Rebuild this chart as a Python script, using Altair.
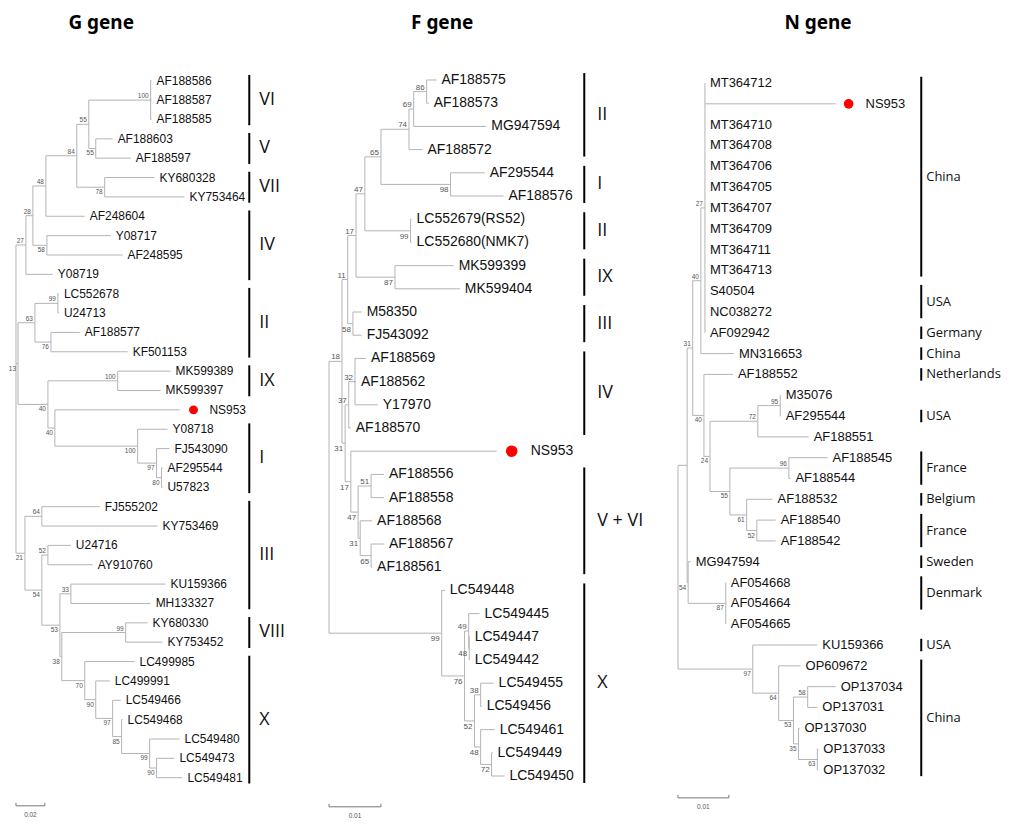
import altair as alt
import pandas as pd

# ----------------------------- G gene -----------------------------
G_LEAVES = ["AF188586", "AF188587", "AF188585", "AF188603", "AF188597", "KY680328", "KY753464",
            "AF248604", "Y08717", "AF248595", "Y08719", "LC552678", "U24713", "AF188577", "KF501153",
            "MK599389", "MK599397", "NS953", "Y08718", "FJ543090", "AF295544", "U57823", "FJ555202",
            "KY753469", "U24716", "AY910760", "KU159366", "MH133327", "KY680330", "KY753452",
            "LC499985", "LC499991", "LC549466", "LC549468", "LC549480", "LC549473", "LC549481"]
G_LEAF_DEPTH = [0.0938, 0.0938, 0.0938, 0.0669, 0.0794, 0.0959, 0.1166, 0.0476, 0.0656, 0.0738,
                0.0255, 0.0297, 0.0297, 0.0442, 0.0773, 0.1070, 0.1001, 0.1132, 0.1049, 0.1063,
                0.1014, 0.1014, 0.0580, 0.0980, 0.0380, 0.0531, 0.1035, 0.0932, 0.0911, 0.1014,
                0.0821, 0.0649, 0.0725, 0.0738, 0.1132, 0.1097, 0.1152]
G_NODE_IDS = ["gVI", "gV", "g55", "gVII", "g84", "g48", "g58", "g28", "g27", "g99", "g76", "g63",
              "gIX", "g80", "g97", "gI", "g40b", "g40a", "g13", "g64", "g52", "g33", "gVIII", "g90b",
              "g99b", "g85", "g97b", "g90a", "g70", "g38", "g53", "g54", "g21", "groot"]
G_NODE_DEPTH = [0.0932, 0.0552, 0.0504, 0.0614, 0.0421, 0.0207, 0.0214, 0.0117, 0.0069, 0.0290,
                0.0242, 0.0131, 0.0704, 0.1007, 0.0973, 0.0842, 0.0269, 0.0221, 0.0014, 0.0179,
                0.0221, 0.0380, 0.0759, 0.0973, 0.0925, 0.0731, 0.0669, 0.0552, 0.0476, 0.0317,
                0.0304, 0.0179, 0.0062, 0.0]
G_NODE_SUPPORT = ["100", "55", "55", "78", "84", "48", "58", "28", "27", "99", "76", "63", "100", "80",
                  "97", "100", "40", "40", "13", "64", "52", "33", "99", "90", "99", "85", "97", "90",
                  "70", "38", "53", "54", "21", ""]
G_NODE_CHILDREN = [
    ["AF188586", "AF188587", "AF188585"], ["AF188603", "AF188597"], ["gVI", "gV"],
    ["KY680328", "KY753464"], ["g55", "gVII"], ["g84", "AF248604"], ["Y08717", "AF248595"],
    ["g48", "g58"], ["g28", "Y08719"], ["LC552678", "U24713"], ["AF188577", "KF501153"],
    ["g99", "g76"], ["MK599389", "MK599397"], ["AF295544", "U57823"], ["FJ543090", "g80"],
    ["Y08718", "g97"], ["NS953", "gI"], ["gIX", "g40b"], ["g63", "g40a"],
    ["FJ555202", "KY753469"], ["U24716", "AY910760"], ["KU159366", "MH133327"],
    ["KY680330", "KY753452"], ["LC549473", "LC549481"], ["LC549480", "g90b"],
    ["LC549468", "g99b"], ["LC549466", "g85"], ["LC499991", "g97b"], ["LC499985", "g90a"],
    ["gVIII", "g70"], ["g33", "g38"], ["g52", "g53"], ["g64", "g54"], ["g27", "g13", "g21"]]
G_CLADES = ["VI", "V", "VII", "IV", "II", "IX", "I", "III", "VIII", "X"]
G_CLADE_FIRST = ["AF188586", "AF188603", "KY680328", "AF248604", "LC552678", "MK599389", "Y08718",
                 "FJ555202", "KY680330", "LC499985"]
G_CLADE_LAST = ["AF188585", "AF188597", "KY753464", "Y08719", "KF501153", "MK599397", "U57823",
                "MH133327", "KY753452", "LC549481"]
G_SCALE = 0.02

# ----------------------------- F gene -----------------------------
F_LEAVES = ["AF188575", "AF188573", "MG947594", "AF188572", "AF295544", "AF188576",
            "LC552679(RS52)", "LC552680(NMK7)", "MK599399", "MK599404", "M58350", "FJ543092",
            "AF188569", "AF188562", "Y17970", "AF188570", "NS953", "AF188556", "AF188558",
            "AF188568", "AF188567", "AF188561", "LC549448", "LC549445", "LC549447", "LC549442",
            "LC549455", "LC549456", "LC549461", "LC549449", "LC549450"]
F_LEAF_DEPTH = [0.0207, 0.0192, 0.0303, 0.0180, 0.0300, 0.0336, 0.0159, 0.0159, 0.0240, 0.0252,
                0.0063, 0.0063, 0.0071, 0.0052, 0.0094, 0.0042, 0.0323, 0.0106, 0.0106, 0.0083,
                0.0106, 0.0083, 0.0223, 0.0290, 0.0271, 0.0271, 0.0317, 0.0294, 0.0319, 0.0315,
                0.0338]
F_NODE_IDS = ["f86", "f69", "f74", "f98", "f65", "f99a", "f47a", "f87", "f17a", "f58", "f11", "f32",
              "f37", "f51", "f65b", "f31b", "f47b", "f17b", "f31a", "f18", "f48a", "f49", "f38",
              "f72", "f48b", "f52", "f76", "f99X", "froot"]
F_NODE_DEPTH = [0.0188, 0.0163, 0.0154, 0.0234, 0.0100, 0.0157, 0.0069, 0.0127, 0.0052, 0.0046,
                0.0036, 0.0050, 0.0038, 0.0081, 0.0081, 0.0060, 0.0056, 0.0042, 0.0031, 0.0025,
                0.0270, 0.0269, 0.0292, 0.0313, 0.0292, 0.0280, 0.0261, 0.0217, 0.0]
F_NODE_SUPPORT = ["86", "69", "74", "98", "65", "99", "47", "87", "17", "58", "11", "32", "37", "51",
                  "65", "31", "47", "17", "31", "18", "48", "49", "38", "72", "48", "52", "76", "99", ""]
F_NODE_CHILDREN = [
    ["AF188575", "AF188573"], ["f86", "MG947594"], ["f69", "AF188572"], ["AF295544", "AF188576"],
    ["f74", "f98"], ["LC552679(RS52)", "LC552680(NMK7)"], ["f65", "f99a"],
    ["MK599399", "MK599404"], ["f47a", "f87"], ["M58350", "FJ543092"], ["f17a", "f58"],
    ["AF188569", "AF188562", "Y17970"], ["f32", "AF188570"], ["AF188556", "AF188558"],
    ["AF188567", "AF188561"], ["AF188568", "f65b"], ["f51", "f31b"], ["NS953", "f47b"],
    ["f37", "f17b"], ["f11", "f31a"], ["LC549447", "LC549442"], ["LC549445", "f48a"],
    ["LC549455", "LC549456"], ["LC549449", "LC549450"], ["LC549461", "f72"], ["f38", "f48b"],
    ["f49", "f52"], ["LC549448", "f76"], ["f18", "f99X"]]
F_CLADES = ["II", "I", "II", "IX", "III", "IV", "V + VI", "X"]
F_CLADE_FIRST = ["AF188575", "AF295544", "LC552679(RS52)", "MK599399", "M58350", "AF188569",
                 "AF188556", "LC549448"]
F_CLADE_LAST = ["AF188572", "AF188576", "LC552680(NMK7)", "MK599404", "FJ543092", "AF188570",
                "AF188561", "LC549450"]
F_SCALE = 0.01

# ----------------------------- N gene -----------------------------
N_LEAVES = ["MT364712", "NS953", "MT364710", "MT364708", "MT364706", "MT364705", "MT364707",
            "MT364709", "MT364711", "MT364713", "S40504", "NC038272", "AF092942", "MN316653",
            "AF188552", "M35076", "AF295544", "AF188551", "AF188545", "AF188544", "AF188532",
            "AF188540", "AF188542", "MG947594", "AF054668", "AF054664", "AF054665", "KU159366",
            "OP609672", "OP137034", "OP137031", "OP137030", "OP137033", "OP137032"]
N_LEAF_DEPTH = [0.0053, 0.0310, 0.0053, 0.0053, 0.0053, 0.0053, 0.0053, 0.0053, 0.0053, 0.0053,
                0.0053, 0.0053, 0.0053, 0.0110, 0.0108, 0.0202, 0.0202, 0.0257, 0.0294, 0.0221,
                0.0186, 0.0192, 0.0192, 0.0025, 0.0094, 0.0094, 0.0094, 0.0274, 0.0241, 0.0310,
                0.0274, 0.0239, 0.0276, 0.0276]
N_NODE_IDS = ["n27", "n40t", "n95", "n72", "n96", "n52", "n61", "n55", "n24", "n40n", "n31", "n87",
              "n54", "nQ", "n58", "n63", "n35", "n53", "n64", "n97", "nroot"]
N_NODE_DEPTH = [0.0053, 0.0045, 0.0201, 0.0157, 0.0218, 0.0155, 0.0135, 0.0102, 0.0063, 0.0051,
                0.0029, 0.0094, 0.0020, 0.0018, 0.0255, 0.0274, 0.0237, 0.0227, 0.0198, 0.0147, 0.0]
N_NODE_SUPPORT = ["27", "40", "95", "72", "96", "52", "61", "55", "24", "40", "31", "87", "54", "",
                  "58", "63", "35", "53", "64", "97", ""]
N_NODE_CHILDREN = [
    ["MT364712", "NS953", "MT364710", "MT364708", "MT364706", "MT364705", "MT364707",
     "MT364709", "MT364711", "MT364713", "S40504", "NC038272", "AF092942"],
    ["n27", "MN316653"], ["M35076", "AF295544"], ["n95", "AF188551"], ["AF188545", "AF188544"],
    ["AF188540", "AF188542"], ["AF188532", "n52"], ["n96", "n61"], ["n72", "n55"],
    ["AF188552", "n24"], ["n40t", "n40n"], ["AF054668", "AF054664", "AF054665"],
    ["MG947594", "n87"], ["n31", "n54"], ["OP137034", "OP137031"], ["OP137033", "OP137032"],
    ["OP137030", "n63"], ["n58", "n35"], ["OP609672", "n53"], ["KU159366", "n64"], ["nQ", "n97"]]
N_CLADES = ["China", "USA", "Germany", "China", "Netherlands", "USA", "France", "Belgium", "France",
            "Sweden", "Denmark", "USA", "China"]
N_CLADE_FIRST = ["MT364712", "S40504", "AF092942", "MN316653", "AF188552", "AF295544", "AF188545",
                 "AF188532", "AF188540", "MG947594", "AF054668", "KU159366", "OP609672"]
N_CLADE_LAST = ["MT364713", "NC038272", "AF092942", "MN316653", "AF188552", "AF295544", "AF188544",
                "AF188532", "AF188542", "MG947594", "AF054664", "KU159366", "OP137032"]
N_SCALE = 0.01

BRANCH = "#b4b4b4"
LEAF_FONT = "Liberation Sans"
PANEL_H = 775


def tree_tables(leaves, leaf_depth, node_ids, node_depth, node_support, node_children):
    depth = dict(zip(leaves, leaf_depth))
    depth.update(zip(node_ids, node_depth))
    ypos = {n: float(i) for i, n in enumerate(leaves)}
    children = dict(zip(node_ids, node_children))

    def gety(n):
        if n not in ypos:
            ch = children[n]
            ypos[n] = (gety(ch[0]) + gety(ch[-1])) / 2
        return ypos[n]

    for n in node_ids:
        gety(n)
    segs = []
    first_child = {}
    for n in node_ids:
        ch = children[n]
        segs.append(dict(x=depth[n], x2=depth[n], y=ypos[ch[0]], y2=ypos[ch[-1]]))
        for i, c in enumerate(ch):
            segs.append(dict(x=depth[n], x2=depth[c], y=ypos[c], y2=ypos[c]))
            first_child[c] = (i == 0)
    sup = [dict(x=depth[n], y=ypos[n], label=s, above=first_child.get(n, True))
           for n, s in zip(node_ids, node_support) if s]
    leafdf = pd.DataFrame(dict(name=leaves, x=leaf_depth, y=[ypos[l] for l in leaves]))
    return pd.DataFrame(segs), pd.DataFrame(sup), leafdf


def panel(title, title_dx, tree, clades, scale_len, xdom, ydom, width,
          leaf_fs, sup_fs, dot_size, dot_dx, ns_dx, bar_x, clade_x, clade_fs, sb_y, clade_font):
    segs, sup, leafdf = tree_tables(*tree)
    names, first, last = clades
    row = {n: i for i, n in enumerate(tree[0])}
    cl = pd.DataFrame({"clade": names,
                       "y1": [row[f] - 0.3 for f in first],
                       "y2": [row[l] + 0.3 for l in last],
                       "ym": [(row[f] + row[l]) / 2 for f, l in zip(first, last)]})
    xs = alt.Scale(domain=xdom, nice=False, zero=False)
    ys = alt.Scale(domain=ydom, reverse=True, nice=False, zero=False)

    def X(f):
        return alt.X(f + ":Q", scale=xs, axis=None)

    def Y(f):
        return alt.Y(f + ":Q", scale=ys, axis=None)

    branches = alt.Chart(segs).mark_rule(color=BRANCH, strokeWidth=1).encode(
        x=X("x"), x2="x2:Q", y=Y("y"), y2="y2:Q")
    normal = leafdf[leafdf["name"] != "NS953"]
    query = leafdf[leafdf["name"] == "NS953"]
    labels = alt.Chart(normal).mark_text(align="left", baseline="middle", dx=5, font=LEAF_FONT,
                                         fontSize=leaf_fs, color="#111").encode(
        x=X("x"), y=Y("y"), text="name:N")
    dot = alt.Chart(query).mark_circle(color="#ff0000", opacity=1, size=dot_size,
                                       xOffset=dot_dx).encode(x=X("x"), y=Y("y"))
    qlab = alt.Chart(query).mark_text(align="left", baseline="middle", dx=ns_dx, font=LEAF_FONT,
                                      fontSize=leaf_fs, color="#111").encode(
        x=X("x"), y=Y("y"), text="name:N")
    up = alt.Chart(sup[sup["above"]]).mark_text(align="right", baseline="alphabetic", dx=-2, dy=-2,
                                                fontSize=sup_fs, color="#555", font=LEAF_FONT).encode(
        x=X("x"), y=Y("y"), text="label:N")
    down = alt.Chart(sup[~sup["above"]]).mark_text(align="right", baseline="top", dx=-2, dy=2,
                                                   fontSize=sup_fs, color="#555", font=LEAF_FONT).encode(
        x=X("x"), y=Y("y"), text="label:N")
    bars = alt.Chart(cl).mark_rule(color="black", strokeWidth=2).encode(
        x=alt.value(bar_x), y=Y("y1"), y2="y2:Q")
    cl_txt = alt.Chart(cl).mark_text(align="left", baseline="middle", font=clade_font,
                                     fontSize=clade_fs, color="#111").encode(
        x=alt.value(clade_x), y=Y("ym"), text="clade:N")
    sb = pd.DataFrame({"x": [0.0], "x2": [scale_len], "mid": [scale_len / 2],
                       "label": [f"{scale_len:.2f}"]})
    ticks = pd.DataFrame({"x": [0.0, scale_len]})
    sbar = alt.Chart(sb).mark_rule(color="#777", strokeWidth=1).encode(
        x=X("x"), x2="x2:Q", y=alt.value(sb_y))
    sticks = alt.Chart(ticks).mark_rule(color="#777", strokeWidth=1).encode(
        x=X("x"), y=alt.value(sb_y - 3), y2=alt.value(sb_y))
    slab = alt.Chart(sb).mark_text(baseline="top", fontSize=6.5, color="#555", font=LEAF_FONT).encode(
        x=X("mid"), y=alt.value(sb_y + 6), text="label:N")
    return alt.layer(branches, labels, dot, qlab, up, down, bars, cl_txt, sbar, sticks, slab).properties(
        width=width, height=PANEL_H,
        title=alt.TitleParams(title, anchor="middle", dx=title_dx, fontSize=19, font="Noto Sans",
                              fontWeight="bold", color="black", offset=12))


g_panel = panel("G gene", -58,
                (G_LEAVES, G_LEAF_DEPTH, G_NODE_IDS, G_NODE_DEPTH, G_NODE_SUPPORT, G_NODE_CHILDREN),
                (G_CLADES, G_CLADE_FIRST, G_CLADE_LAST), G_SCALE,
                [-0.00345, 0.20148], [-1.84, 38.07], 297,
                12, 6.5, 80, 14, 30, 239, 249, 18, 763, "Open Sans")
f_panel = panel("F gene", -37,
                (F_LEAVES, F_LEAF_DEPTH, F_NODE_IDS, F_NODE_DEPTH, F_NODE_SUPPORT, F_NODE_CHILDREN),
                (F_CLADES, F_CLADE_FIRST, F_CLADE_LAST), F_SCALE,
                [-0.004224, 0.062016], [-1.504, 31.80], 345,
                14, 8, 135, 15, 34, 278, 291, 18, 764, "Open Sans")
n_panel = panel("N gene", -9,
                (N_LEAVES, N_LEAF_DEPTH, N_NODE_IDS, N_NODE_DEPTH, N_NODE_SUPPORT, N_NODE_CHILDREN),
                (N_CLADES, N_CLADE_FIRST, N_CLADE_LAST), N_SCALE,
                [-0.005292, 0.063896], [-1.82, 35.30], 353,
                13, 6.5, 95, 13, 30, 271, 276, 13, 755, "Open Sans")

chart = alt.hconcat(g_panel, f_panel, n_panel, spacing=0, bounds="flush").properties(
    padding={"left": 0, "top": 5, "right": 0, "bottom": 0}
).configure_view(stroke=None)

chart.save("out.html", embed_options={"renderer": "svg", "actions": False})
